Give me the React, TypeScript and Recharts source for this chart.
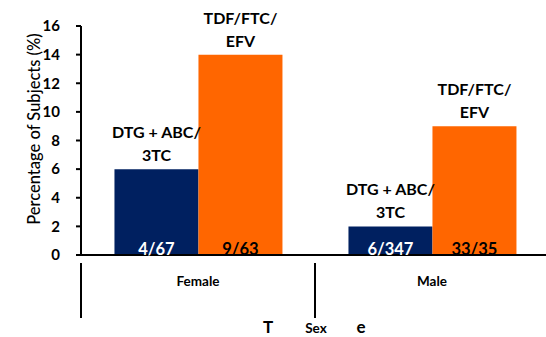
import { BarChart, Bar, XAxis, YAxis, LabelList } from 'recharts';

const categories = ['Female', 'Male'];
const dtgValues = [6, 2];
const tdfValues = [14, 9];
const dtgCounts = ['4/67', '6/347'];
const tdfCounts = ['9/63', '33/35'];
const seriesNames = { dtg: ['DTG + ABC/', '3TC'], tdf: ['TDF/FTC/', 'EFV'] };
const yTicks = [0, 2, 4, 6, 8, 10, 12, 14, 16];

const data = categories.map((name, i) => ({
  name,
  dtg: dtgValues[i],
  tdf: tdfValues[i],
  dtgCount: dtgCounts[i],
  tdfCount: tdfCounts[i],
}));

const FONT = 'Lato, "Open Sans", sans-serif';
const W = 550;
const H = 337;
const margin = { top: 26, right: 1, bottom: 27, left: 45 };
const yAxisWidth = 36;
const xAxisHeight = 55;
const bandHalf = (W - margin.left - margin.right - yAxisWidth) / categories.length / 2;

function CategoryTick(props: any) {
  const { x, y, payload, index } = props;
  const half = payload && payload.offset ? payload.offset : bandHalf;
  return (
    <g>
      <line x1={x - half} y1={y} x2={x - half} y2={y + xAxisHeight} stroke="#000" strokeWidth={2} />
      {index === categories.length - 1 && (
        <line x1={x + half} y1={y} x2={x + half} y2={y + xAxisHeight} stroke="#000" strokeWidth={2} />
      )}
      <text x={x} y={y + 23} textAnchor="middle" fontFamily={FONT} fontWeight={700} fontSize={13.5} fill="#000">
        {payload.value}
      </text>
    </g>
  );
}

function seriesLabel(lines: string[]) {
  return (props: any) => {
    const { x, y, width } = props;
    const cx = x + width / 2;
    return (
      <text x={cx} textAnchor="middle" fontFamily={FONT} fontWeight={700} fontSize={16} fill="#000">
        <tspan x={cx} y={y - 31}>{lines[0]}</tspan>
        <tspan x={cx} y={y - 8}>{lines[1]}</tspan>
      </text>
    );
  };
}

function countLabel(color: string) {
  return (props: any) => {
    const { x, y, width, height, value } = props;
    return (
      <text x={x + width / 2} y={y + height} textAnchor="middle" fontFamily={FONT} fontWeight={700} fontSize={16.5} fill={color}>
        {value}
      </text>
    );
  };
}

function XTitle() {
  return (
    <text y={333} textAnchor="middle" fontFamily={FONT} fontWeight={700} fill="#000">
      <tspan x={268} fontSize={17}>T</tspan>
      <tspan x={316} fontSize={13.5}>Sex</tspan>
      <tspan x={361} fontSize={17}>e</tspan>
    </text>
  );
}

export default function App() {
  return (
    <div style={{ position: 'fixed', left: 0, top: 0, width: 546, height: 337, overflow: 'hidden', background: '#fff' }}>
      <BarChart width={W} height={H} data={data} margin={margin} barCategoryGap="14.3%" barGap={0}>
        <XAxis
          dataKey="name"
          height={xAxisHeight}
          axisLine={{ stroke: '#000', strokeWidth: 2 }}
          tickLine={false}
          tick={<CategoryTick />}
          interval={0}
        />
        <YAxis
          width={yAxisWidth}
          domain={[0, 16]}
          ticks={yTicks}
          interval={0}
          axisLine={{ stroke: '#000', strokeWidth: 2 }}
          tickLine={{ stroke: '#000', strokeWidth: 2 }}
          tickSize={5}
          tickMargin={16}
          tick={{ fontFamily: FONT, fontWeight: 700, fontSize: 15, fill: '#000' }}
          label={(p: any) => (
            <text x={36} y={129} transform="rotate(-90 36 129)" textAnchor="middle" dominantBaseline="middle" fontFamily={FONT} fontWeight={500} fontSize={16.5} fill="#000">
              Percentage of Subjects (%)
            </text>
          )}
        />
        <Bar dataKey="dtg" fill="#002060" isAnimationActive={false}>
          <LabelList dataKey="dtg" content={seriesLabel(seriesNames.dtg)} />
          <LabelList dataKey="dtgCount" content={countLabel('#fff')} />
        </Bar>
        <Bar dataKey="tdf" fill="#FF6600" isAnimationActive={false}>
          <LabelList dataKey="tdf" content={seriesLabel(seriesNames.tdf)} />
          <LabelList dataKey="tdfCount" content={countLabel('#000')} />
        </Bar>
        <XTitle />
      </BarChart>
    </div>
  );
}
